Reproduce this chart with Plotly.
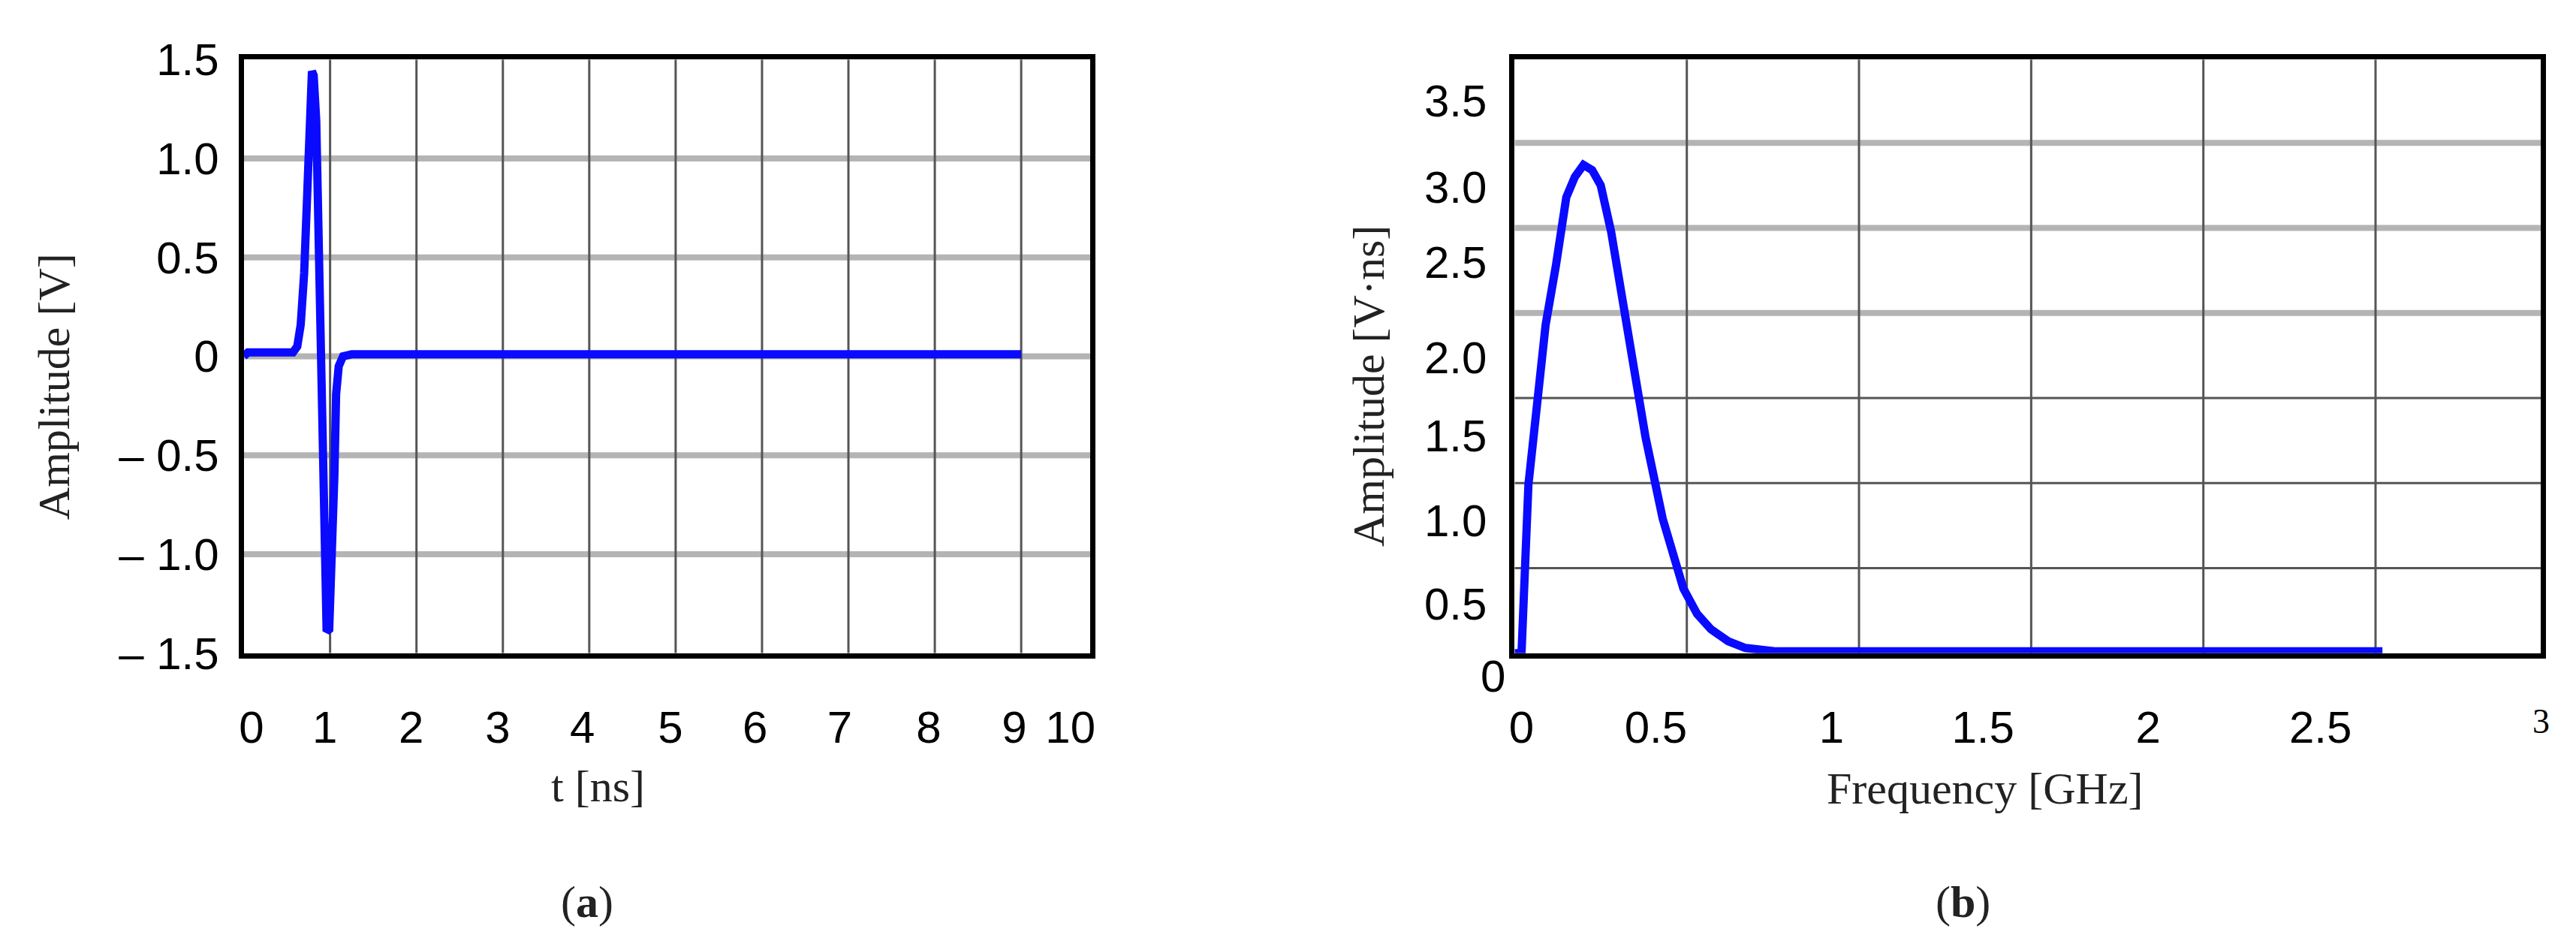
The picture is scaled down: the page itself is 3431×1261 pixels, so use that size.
import plotly.graph_objects as go

# ---- (a) time-domain pulse ----
t_ns = [0, 0.05, 0.19, 0.57, 0.62, 0.66, 0.70, 0.73, 0.76, 0.79, 0.81, 0.84, 0.87, 0.9, 0.92, 0.94,
        0.96, 0.99, 1.02, 1.05, 1.07, 1.10, 1.15, 1.25, 9.0]
amp_v = [0, 0.02, 0.02, 0.02, 0.05, 0.16, 0.42, 0.73, 1.15, 1.44, 1.42, 1.19, 0.6, 0.0, -0.45, -0.88,
         -1.39, -1.38, -1.1, -0.6, -0.19, -0.05, 0.0, 0.01, 0.01]

a_xtick_pos = [0.09, 0.94, 1.94, 2.94, 3.92, 4.94, 5.92, 6.9, 7.93, 8.92, 9.57]
a_xtick_txt = ["0", "1", "2", "3", "4", "5", "6", "7", "8", "9", "10"]
a_ytick_pos = [-1.5, -1.0, -0.5, 0, 0.5, 1.0, 1.5]
a_ytick_txt = ["– 1.5", "– 1.0", "– 0.5", "0", "0.5", "1.0", "1.5"]
a_vgrid = [1, 2, 3, 4, 5, 6, 7, 8, 9]
a_hgrid = [-1.0, -0.5, 0, 0.5, 1.0]

# ---- (b) spectrum ----
f_ghz = [0.0, 0.02, 0.04, 0.065, 0.09, 0.12, 0.15, 0.175, 0.2, 0.225, 0.25, 0.28, 0.31, 0.34, 0.38,
         0.43, 0.49, 0.53, 0.57, 0.62, 0.67, 0.76, 1.5, 2.52]
spec = [0.0, 0.0, 0.99, 1.5, 1.93, 2.28, 2.68, 2.8, 2.87, 2.84, 2.75, 2.48, 2.1, 1.75, 1.27,
        0.79, 0.38, 0.23, 0.14, 0.07, 0.03, 0.01, 0.01, 0.01]

b_xtick_pos = [0.02, 0.41, 0.92, 1.36, 1.84, 2.34]
b_xtick_txt = ["0", "0.5", "1", "1.5", "2", "2.5"]
b_ytick_pos = [0.29, 0.78, 1.28, 1.74, 2.30, 2.74, 3.25]
b_ytick_txt = ["0.5", "1.0", "1.5", "2.0", "2.5", "3.0", "3.5"]
b_vgrid = [0.5, 1.0, 1.5, 2.0, 2.5]
b_hgrid_thin = [0.5, 1.0, 1.5]
b_hgrid_thick = [2.0, 2.5, 3.0]

BLUE = "#0a0aff"
TICKFONT = dict(family="Liberation Sans Narrow, Liberation Sans, Arial", size=60, color="black")
SERIF = dict(family="Liberation Serif, Times New Roman, serif", size=60, color="#222")

fig = go.Figure()
fig.add_trace(go.Scatter(x=t_ns, y=amp_v, mode="lines", line=dict(color=BLUE, width=11),
                         xaxis="x", yaxis="y", showlegend=False))
fig.add_trace(go.Scatter(x=f_ghz, y=spec, mode="lines", line=dict(color=BLUE, width=11),
                         xaxis="x2", yaxis="y2", showlegend=False))

shapes = []
for g in a_hgrid:
    shapes.append(dict(type="line", xref="x", yref="y", x0=0, x1=9.8, y0=g, y1=g,
                       line=dict(color="#b4b4b4", width=8), layer="below"))
for g in a_vgrid:
    shapes.append(dict(type="line", xref="x", yref="y", x0=g, x1=g, y0=-1.5, y1=1.5,
                       line=dict(color="#555", width=3), layer="below"))
for g in b_hgrid_thick:
    shapes.append(dict(type="line", xref="x2", yref="y2", x0=0, x1=2.98, y0=g, y1=g,
                       line=dict(color="#b4b4b4", width=8), layer="below"))
for g in b_hgrid_thin:
    shapes.append(dict(type="line", xref="x2", yref="y2", x0=0, x1=2.98, y0=g, y1=g,
                       line=dict(color="#555", width=3), layer="below"))
for g in b_vgrid:
    shapes.append(dict(type="line", xref="x2", yref="y2", x0=g, x1=g, y0=0, y1=3.49,
                       line=dict(color="#555", width=3), layer="below"))

frame = dict(showline=True, linecolor="black", linewidth=7, mirror=True, showgrid=False,
             zeroline=False, ticks="", tickfont=TICKFONT, fixedrange=True)

fig.update_layout(
    width=3431, height=1261, margin=dict(l=0, r=0, t=0, b=0),
    paper_bgcolor="white", plot_bgcolor="white",
    xaxis=dict(domain=[0.0906, 0.4206], range=[0, 9.8], tickvals=a_xtick_pos, ticktext=a_xtick_txt,
               ticklabelstandoff=40, anchor="y", **frame),
    yaxis=dict(domain=[0.306, 0.968], range=[-1.5, 1.5], tickvals=a_ytick_pos, ticktext=a_ytick_txt,
               ticklabelstandoff=14, anchor="x", **frame),
    xaxis2=dict(domain=[0.586, 0.986], range=[0, 2.98], tickvals=b_xtick_pos, ticktext=b_xtick_txt,
                ticklabelstandoff=40, anchor="y2", **frame),
    yaxis2=dict(domain=[0.306, 0.968], range=[0, 3.49], tickvals=b_ytick_pos, ticktext=b_ytick_txt,
                ticklabelstandoff=18, anchor="x2", **frame),
    shapes=shapes,
)

ann = [
    dict(text="Amplitude [V]", x=58, y=500, textangle=-90),
    dict(text="t [ns]", x=785, y=1062),
    dict(text="(<b>a</b>)", x=770, y=1225),
    dict(text="Amplitude [V·ns]", x=1816, y=500, textangle=-90),
    dict(text="Frequency [GHz]", x=2640, y=1066),
    dict(text="(<b>b</b>)", x=2610, y=1225),
]
for a in ann:
    fig.add_annotation(text=a["text"], x=a["x"] / 3431, y=1 - a["y"] / 1261, xref="paper", yref="paper",
                       showarrow=False, textangle=a.get("textangle", 0), font=SERIF,
                       xanchor="center", yanchor="middle")
fig.add_annotation(text="0", x=1982 / 3431, y=1 - 945 / 1261, xref="paper", yref="paper",
                   showarrow=False, font=TICKFONT)
fig.add_annotation(text="3", x=3397 / 3431, y=1 - 1000 / 1261, xref="paper", yref="paper",
                   showarrow=False, font=dict(family="Liberation Serif", size=46, color="black"))

fig.write_html("out.html")
